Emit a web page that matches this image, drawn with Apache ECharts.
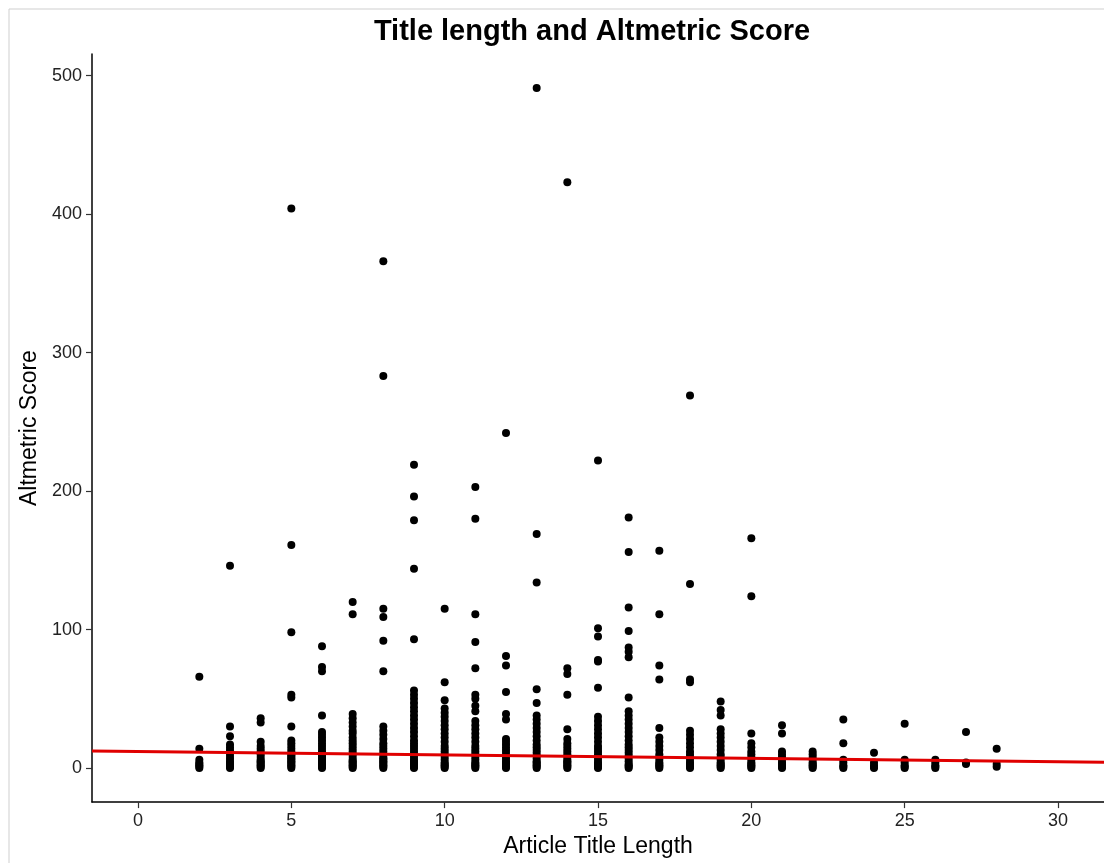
<!DOCTYPE html>
<html>
<head>
<meta charset="utf-8">
<script src="https://cdn.jsdelivr.net/npm/echarts@6/dist/echarts.min.js"></script>
<style>
html,body{margin:0;padding:0;background:#fff;}
#chart{width:1104px;height:863px;}
</style>
</head>
<body>
<div id="chart"></div>
<script>
// Article title length (x) and the Altmetric scores observed at each length
const titleLengths = [2,3,4,5,6,7,8,9,10,11,12,13,14,15,16,17,18,19,20,21,22,23,24,25,26,27,28];
const scoresByLength = [
  [66,14,6,4,3,2,1,0],
  [146,30,23,17,15,13,11,9,7,5,4,3,2,1,0],
  [36,33,19,16,14,12,10,8,6,5,4,3,2,1,0],
  [404,161,98,53,51,30,20,18,16,14,12,10,9,8,7,6,5,4,3,2,1,0],
  [88,73,70,38,26,24,22,20,18,16,14,12,10,9,8,7,6,5,4,3,2,1,0],
  [120,111,39,36,33,30,27,25,22,20,18,16,14,12,10,8,6,5,4,3,2,1,0],
  [366,283,115,109,92,70,30,27,24,21,18,16,14,12,10,8,7,6,5,4,3,2,1,0],
  [219,196,179,144,93,56,53,50,47,44,41,38,35,32,29,26,23,20,18,16,14,12,10,8,6,5,4,3,2,1,0],
  [115,62,49,43,40,37,34,31,28,25,22,19,16,14,12,10,8,6,4,3,2,1,0],
  [203,180,111,91,72,53,50,45,41,34,31,28,25,22,19,16,14,12,10,8,6,4,3,2,1,0],
  [242,81,74,55,39,35,21,19,17,15,13,11,9,7,5,4,3,2,1,0],
  [491,169,134,57,47,38,35,32,29,26,23,20,17,15,13,11,9,7,5,4,3,2,1,0],
  [423,72,68,53,28,21,18,16,14,12,10,8,6,5,4,3,2,1,0],
  [222,101,95,78,77,58,37,34,31,28,25,22,19,16,14,12,10,8,6,4,3,2,1,0],
  [181,156,116,99,87,84,80,51,41,38,35,32,29,26,23,20,17,15,13,11,9,7,5,3,2,1,0],
  [157,111,74,64,29,22,19,16,13,10,8,6,4,3,2,1,0],
  [269,133,64,62,27,24,21,18,15,12,10,8,6,4,3,2,1,0],
  [48,42,38,28,25,22,19,16,13,10,8,6,4,3,2,1,0],
  [166,124,25,18,15,12,10,8,6,4,3,2,1,0],
  [31,25,12,10,8,6,4,3,2,1,0],
  [12,10,8,6,4,3,2,1,0],
  [35,18,6,4,2,1,0],
  [11,4,2,1,0],
  [32,6,4,2,1,0],
  [6,4,2,1,0],
  [26,4,3],
  [14,3,1]
];
// Fitted linear trend (at the panel edges)
const fitX = [-1.5, 31.5];
const fitY = [12.4, 4.3];
// Axis ranges and ticks
const xRange = [-1.5, 31.5];
const yRange = [-24.55, 515.55];
const xTicks = [0,5,10,15,20,25,30];
const yTicks = [0,100,200,300,400,500];

const points = [];
titleLengths.forEach((len, i) => {
  scoresByLength[i].forEach(s => points.push([len, s]));
});
const fitLine = fitX.map((x, i) => [x, fitY[i]]);

const FONT = '"Liberation Sans", Arial, Helvetica, sans-serif';
const chart = echarts.init(document.getElementById('chart'), null, {renderer: 'canvas'});
chart.setOption({
  animation: false,
  backgroundColor: '#fff',
  title: {
    text: 'Title length and Altmetric Score',
    left: 587, top: 12, textAlign: 'center',
    textStyle: {fontFamily: FONT, fontWeight: 'bold', fontSize: 29, color: '#000'}
  },
  graphic: [{
    type: 'rect', shape: {x: 9, y: 9, width: 1200, height: 1000},
    style: {fill: 'none', stroke: '#cfcfcf', lineWidth: 1}, silent: true, z: -10
  }],
  grid: {left: 92, right: 0, top: 54, bottom: 52, containLabel: false},
  xAxis: {
    type: 'value', min: xRange[0], max: xRange[1],
    name: 'Article Title Length', nameLocation: 'middle', nameGap: 28,
    nameTextStyle: {fontFamily: FONT, fontSize: 23, color: '#000'},
    splitLine: {show: false},
    axisLine: {show: true, onZero: false, lineStyle: {color: '#000', width: 1.5}},
    axisTick: {show: true, length: 6, lineStyle: {color: '#333', width: 1.2},
      customValues: xTicks},
    axisLabel: {fontFamily: FONT, fontSize: 18, color: '#222', margin: 10,
      customValues: xTicks,
      formatter: v => String(v)}
  },
  yAxis: {
    type: 'value', min: yRange[0], max: yRange[1],
    name: 'Altmetric Score', nameLocation: 'middle', nameGap: 43,
    nameTextStyle: {fontFamily: FONT, fontSize: 23, color: '#000'},
    splitLine: {show: false},
    axisLine: {show: true, onZero: false, lineStyle: {color: '#000', width: 1.5}},
    axisTick: {show: true, length: 6, lineStyle: {color: '#333', width: 1.2},
      customValues: yTicks},
    axisLabel: {fontFamily: FONT, fontSize: 18, color: '#222', margin: 10,
      customValues: yTicks,
      formatter: v => String(v)}
  },
  series: [
    {
      type: 'scatter', data: points, symbol: 'circle', symbolSize: 8,
      itemStyle: {color: '#000', opacity: 1}, z: 2
    },
    {
      type: 'line', data: fitLine, symbol: 'none', z: 3,
      lineStyle: {color: '#e00000', width: 3}
    }
  ]
});
</script>
</body>
</html>
